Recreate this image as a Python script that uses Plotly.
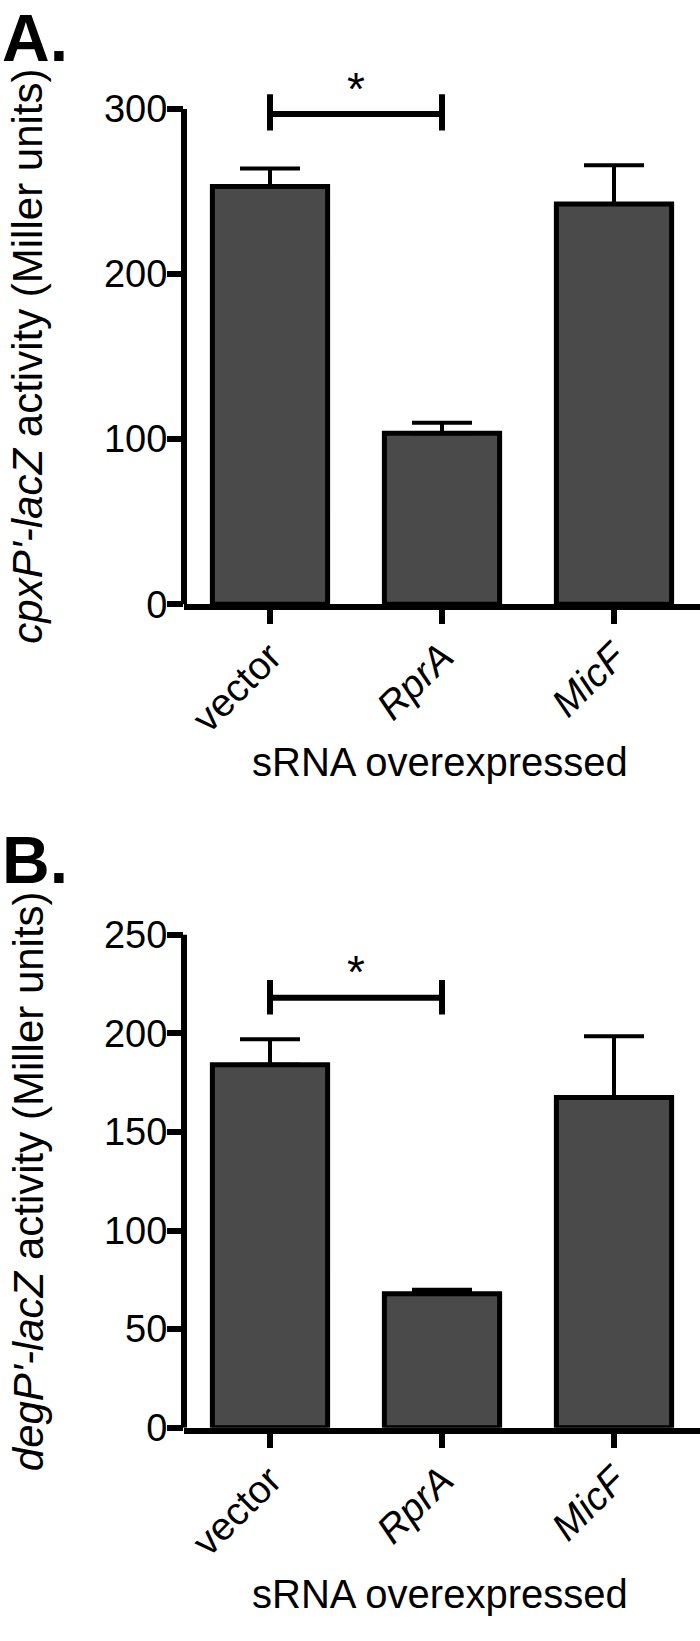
import plotly.graph_objects as go

categories = ["vector", "RprA", "MicF"]
tick_text = ["vector", "<i>RprA</i>", "<i>MicF</i>"]

# panel A: cpxP'-lacZ
cpxp_mean = [253, 103.5, 242.5]
cpxp_err = [11, 6.5, 23.5]
cpxp_ticks = [0, 100, 200, 300]
cpxp_bracket = [287, 297, 309]   # low end, bar, high end
cpxp_star = 312

# panel B: degP'-lacZ
degp_mean = [184, 68, 167.5]
degp_err = [13, 2, 31]
degp_ticks = [0, 50, 100, 150, 200, 250]
degp_bracket = [209.5, 218, 227]
degp_star = 231

W, H = 700, 1641
LEFT = 184
FONT = "Liberation Sans, Arial, Helvetica, sans-serif"
BAR_FILL = "#4a4a4a"


def px_x(px):
    return (px - LEFT) / (W - LEFT)


def px_y(px):
    return 1 - px / H


def domain(zero_px, top_tick_px, top_tick, range_max):
    per_unit = (zero_px - top_tick_px) / top_tick
    return [px_y(zero_px), px_y(zero_px - range_max * per_unit)]


panels = [
    dict(mean=cpxp_mean, err=cpxp_err, ticks=cpxp_ticks, bracket=cpxp_bracket,
         star=cpxp_star, rmax=320, zero_px=605, top_px=100,
         label="A.", label_px=28, xtitle_px=766,
         ytitle="<i>cpxP'-lacZ</i> activity (Miller units)"),
    dict(mean=degp_mean, err=degp_err, ticks=degp_ticks, bracket=degp_bracket,
         star=degp_star, rmax=255, zero_px=1445, top_px=942,
         label="B.", label_px=866, xtitle_px=1614,
         ytitle="<i>degP'-lacZ</i> activity (Miller units)"),
]

fig = go.Figure()
shapes = []
annotations = []
layout = {}

for i, p in enumerate(panels, start=1):
    xa = "x" if i == 1 else f"x{i}"
    ya = "y" if i == 1 else f"y{i}"

    fig.add_trace(
        go.Bar(
            x=categories,
            y=p["mean"],
            width=0.67,
            xaxis=xa,
            yaxis=ya,
            marker=dict(color=BAR_FILL, line=dict(color="black", width=5)),
            error_y=dict(
                type="data",
                symmetric=False,
                array=p["err"],
                arrayminus=[0] * len(p["err"]),
                color="black",
                thickness=4,
                width=30,
            ),
            showlegend=False,
            hoverinfo="skip",
        )
    )

    layout["xaxis" if i == 1 else f"xaxis{i}"] = dict(
        domain=[0, 1],
        anchor=ya,
        range=[-0.5, 2.5],
        type="category",
        tickvals=categories,
        ticktext=tick_text,
        tickangle=-45,
        tickfont=dict(size=39, color="black", family=FONT),
        ticks="outside",
        ticklen=14,
        tickwidth=6,
        tickcolor="black",
        ticklabelstandoff=-6,
        showline=True,
        linecolor="black",
        linewidth=6,
        showgrid=False,
        zeroline=False,
    )
    layout["yaxis" if i == 1 else f"yaxis{i}"] = dict(
        domain=domain(p["zero_px"], p["top_px"], p["ticks"][-1], p["rmax"]),
        anchor=xa,
        range=[0, p["rmax"]],
        tickvals=p["ticks"],
        tickfont=dict(size=38, color="black", family=FONT),
        ticks="outside",
        ticklen=16,
        tickwidth=6,
        tickcolor="black",
        ticklabelstandoff=-8,
        showline=False,
        showgrid=False,
        zeroline=False,
    )

    # y axis line only up to the top tick
    shapes.append(dict(type="line", xref=f"{xa} domain", yref=ya, x0=0, x1=0,
                       y0=0, y1=p["ticks"][-1], line=dict(color="black", width=6)))

    # significance bracket vector vs RprA
    lo, mid, hi = p["bracket"]
    line = dict(color="black", width=6)
    shapes.append(dict(type="line", xref=xa, yref=ya, x0=categories[0], x1=categories[1],
                       y0=mid, y1=mid, line=line))
    for c in categories[:2]:
        shapes.append(dict(type="line", xref=xa, yref=ya, x0=c, x1=c,
                           y0=lo, y1=hi, line=line))

    annotations += [
        dict(text="*", xref=xa, yref=ya, x=0.5, y=p["star"], showarrow=False,
             xanchor="center", yanchor="middle",
             font=dict(size=46, color="black", family=FONT)),
        dict(text=p["ytitle"], xref="paper", yref=ya, x=px_x(28), y=p["ticks"][-1] / 2,
             textangle=-90, showarrow=False, xanchor="center", yanchor="middle",
             font=dict(size=42, color="black", family=FONT)),
        dict(text="sRNA overexpressed", xref="paper", yref="paper",
             x=px_x(440), y=px_y(p["xtitle_px"]), showarrow=False,
             xanchor="center", yanchor="middle",
             font=dict(size=40, color="black", family=FONT)),
        dict(text=f"<b>{p['label']}</b>", xref="paper", yref="paper",
             x=px_x(0), y=px_y(p["label_px"]), showarrow=False,
             xanchor="left", yanchor="middle",
             font=dict(size=66, color="black", family=FONT)),
    ]

fig.update_layout(
    width=W,
    height=H,
    margin=dict(l=LEFT, r=0, t=0, b=0),
    paper_bgcolor="white",
    plot_bgcolor="white",
    showlegend=False,
    hovermode=False,
    shapes=shapes,
    annotations=annotations,
    **layout,
)

# drop the default 8px body margin so the figure sits flush in the window
fig.write_html(
    "out.html",
    config={"displayModeBar": False},
    post_script="document.body.style.margin = '0';",
)
